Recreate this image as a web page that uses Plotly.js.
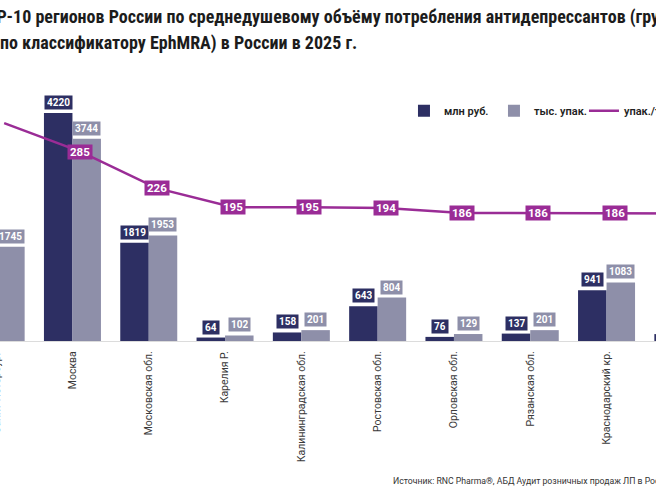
<!DOCTYPE html>
<html><head><meta charset="utf-8">
<script src="https://cdn.plot.ly/plotly-3.0.1.min.js"></script>
<style>
html,body{margin:0;padding:0;overflow:hidden;background:#fff;width:656px;height:492px}
#chart{position:absolute;left:-60px;top:0;width:801px;height:492px}
</style></head><body><div id="chart"></div>
<script>
// ---- data ----
const regions = ['Санкт-Петербург','Москва','Московская обл.','Карелия Р.','Калининградская обл.','Ростовская обл.','Орловская обл.','Рязанская обл.','Краснодарский кр.','Тверская обл.'];
const rubMln = [1890, 4220, 1819, 64, 158, 643, 76, 137, 941, 128];
const packsThs = [1745, 3744, 1953, 102, 201, 804, 129, 201, 1083, 196];
const packsPerThs = [331, 285, 226, 195, 195, 194, 186, 186, 186, 185];
const seriesNames = ['млн руб.', 'тыс. упак.', 'упак./тыс. чел.'];
const titleLine1 = 'TOP-10 регионов России по среднедушевому объёму потребления антидепрессантов (группа N06A';
const titleLine2 = 'по классификатору EphMRA) в России в 2025 г.';
const sourceText = 'Источник: RNC Pharma®, АБД Аудит розничных продаж ЛП в России';

// ---- style ----
const NAVY = '#2d2f63', GREY = '#8e8fa9', MAG = '#9a2c96';
const FONT = 'Roboto, "Liberation Sans", sans-serif';
const TFONT = '"Liberation Sans Narrow", "Roboto Condensed", Roboto, sans-serif';

const traces = [
  {type:'bar', x:regions, y:rubMln, name:seriesNames[0], marker:{color:NAVY}, xaxis:'x', yaxis:'y', hoverinfo:'skip'},
  {type:'bar', x:regions, y:packsThs, name:seriesNames[1], marker:{color:GREY}, xaxis:'x', yaxis:'y', hoverinfo:'skip'},
  {type:'scatter', mode:'lines', x:regions, y:packsPerThs, name:seriesNames[2], line:{color:MAG, width:2.5}, xaxis:'x2', yaxis:'y2', hoverinfo:'skip'}
];

const BAROFF = 14.2;
const ann = [];
regions.forEach((r,i)=>{
  ann.push({x:r, y:rubMln[i], xref:'x', yref:'y', text:String(rubMln[i]), showarrow:false,
    xanchor:'center', yanchor:'bottom', xshift:-BAROFF, yshift:3, bgcolor:NAVY, borderpad:2, height:9,
    font:{family:FONT, size:10, color:'#fff', weight:700}});
  ann.push({x:r, y:packsThs[i], xref:'x', yref:'y', text:String(packsThs[i]), showarrow:false,
    xanchor:'center', yanchor:'bottom', xshift:BAROFF, yshift:3, bgcolor:GREY, borderpad:2, height:9,
    font:{family:FONT, size:10, color:'#fff', weight:700}});
  ann.push({x:r, y:packsPerThs[i], xref:'x2', yref:'y2', text:String(packsPerThs[i]), showarrow:false,
    xanchor: i===0 ? 'right' : 'center', xshift: i===0 ? -8 : 0, yanchor:'middle', bgcolor:MAG, borderpad:2, height:10,
    font:{family:FONT, size:11.5, color:'#fff', weight:700}});
});
ann.push({text:titleLine2, xref:'paper', yref:'paper', x:0.0524, y:1.0605, xanchor:'left', yanchor:'middle', showarrow:false,
  font:{family:TFONT, size:18, color:'#1c1c1c', weight:700}});
ann.push({text:sourceText, xref:'paper', yref:'paper', x:0.5675, y:-0.498, xanchor:'left', yanchor:'middle', showarrow:false,
  font:{family:FONT, size:8.7, color:'#333'}});

const layout = {
  width:801, height:492,
  margin:{l:18, r:20, t:60, b:151},
  paper_bgcolor:'#fff', plot_bgcolor:'#fff',
  title:{text:titleLine1, x:36/801, xref:'container', xanchor:'left', y:1-17/492, yref:'container', yanchor:'middle',
    font:{family:TFONT, size:18, color:'#1c1c1c', weight:700}},
  barmode:'group', bargap:0.253, bargroupgap:0,
  xaxis:{type:'category', categoryarray:regions, range:[-0.5,9.5], tickangle:-90, ticks:'', showgrid:false, zeroline:false,
    showline:true, linecolor:'#dcdcdc', linewidth:1, ticklabelstandoff:5, tickfont:{family:FONT, size:10.5, color:'#3a3a3a'}},
  xaxis2:{type:'category', categoryarray:regions, overlaying:'x', range:[-0.605,9.395], visible:false},
  yaxis:{range:[0,5200], visible:false},
  yaxis2:{range:[-21,433], overlaying:'y', visible:false},
  showlegend:true,
  legend:{orientation:'h', x:0.5845, xanchor:'left', y:0.819, yanchor:'middle', bgcolor:'rgba(0,0,0,0)',
    entrywidth:45, entrywidthmode:'pixels',
    font:{family:FONT, size:11, color:'#222', weight:600}},
  annotations:ann
};
Plotly.newPlot('chart', traces, layout, {displayModeBar:false, staticPlot:true});
</script></body></html>
